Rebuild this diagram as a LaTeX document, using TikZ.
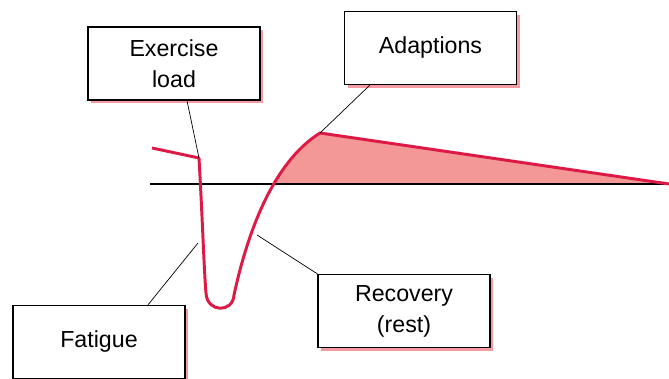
\documentclass[tikz,border=0pt]{standalone}
\usepackage{fontspec}
\setmainfont{Liberation Sans}
\usetikzlibrary{shadows}
\definecolor{curvered}{RGB}{221,25,70}
\definecolor{gainfill}{RGB}{243,152,150}
\definecolor{shadowpink}{RGB}{240,120,130}
\tikzset{
  labelbox/.style={draw=black, line width=0.9pt, fill=white, align=center,
    minimum width=172*0.25mm, minimum height=73*0.25mm, inner sep=0pt,
    font=\fontsize{16.5}{22}\selectfont,
    drop shadow={fill=shadowpink, opacity=0.75, shadow xshift=2.4pt, shadow yshift=-2.4pt}},
  leader/.style={draw=black, line width=0.5pt},
  response/.style={draw=curvered, line width=2.1pt, line join=round}
}
\begin{document}
\begin{tikzpicture}[x=0.025cm, y=-0.025cm]
    \useasboundingbox (0,0) rectangle (669,379);

    %% points on the curve
    \coordinate (start) at (152,148);
    \coordinate (kink) at (199,158);
    \coordinate (dropleft) at (205,242);
    \coordinate (riseright) at (257,235);
    \coordinate (peak) at (320,133);
    \coordinate (tail) at (669,184);

    %% gain above baseline
    \begin{scope}
        \clip (240,0) rectangle (669,184);
        \fill[gainfill] (234,295) .. controls (247,235) and (272,163) .. (peak) -- (tail) -- (669,300) -- cycle;
    \end{scope}

    %% baseline
    \draw[line width=0.9pt] (150,184) to (669,184);

    %% response curve
    \draw[response] (start) -- (kink) .. controls (203,230) and (204,270) .. (206,293)
        .. controls (207,313) and (233,313) .. (234,295)
        .. controls (247,235) and (272,163) .. (peak) -- (tail);

    %% boxes
    \node[labelbox] (exload) at (174,63.5){Exercise\\load};
    \node[labelbox] (adapt) at (430.5,48){Adaptions};
    \node[labelbox] (fatigue) at (99,342){Fatigue};
    \node[labelbox] (recov) at (404,311){Recovery\\(rest)};

    %% leaders
    \draw[leader] (exload.south) ++(13,0) coordinate (exfoot) to (kink);
    \draw[leader] (adapt.south west) ++(26,0) coordinate (adfoot) to (peak);
    \draw[leader] (fatigue.north) ++(49,0) coordinate (fafoot) to (198,243);
    \draw[leader] (recov.north west) to (riseright);
\end{tikzpicture}
\end{document}
